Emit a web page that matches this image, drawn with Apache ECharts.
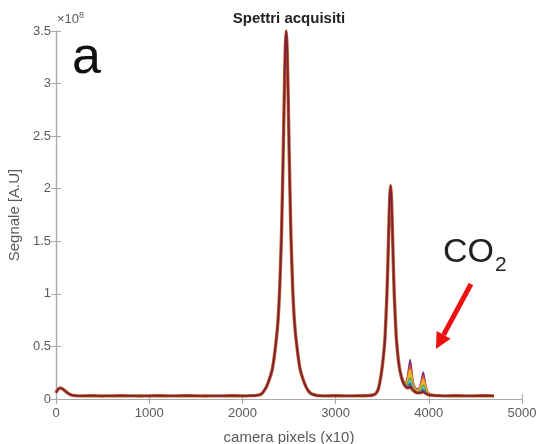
<!DOCTYPE html>
<html>
<head>
<meta charset="utf-8">
<script src="https://cdn.jsdelivr.net/npm/echarts@6/dist/echarts.min.js"></script>
<style>
  html, body { margin: 0; padding: 0; background: #fff; }
  #chart { width: 541px; height: 444px; }
</style>
</head>
<body>
<div id="chart"></div>
<script>
// Acquired spectra: signal (×10^8 A.U.) versus camera pixel (x10)
const pixelX = [0, 20, 50, 80, 120, 160, 200, 300, 400, 500, 600, 700, 800, 900, 1000, 1100, 1200, 1300, 1400, 1500,
  1600, 1700, 1800, 1900, 2000, 2100, 2150, 2200, 2230, 2260, 2290, 2320, 2350, 2380, 2400, 2420, 2440, 2450, 2460,
  2470, 2480, 2490, 2500, 2520, 2540, 2560, 2590, 2620, 2650, 2680, 2710, 2740, 2780, 2820, 2900, 3000, 3100, 3200,
  3300, 3350, 3400, 3430, 3460, 3490, 3510, 3530, 3550, 3560, 3570, 3580, 3590, 3600, 3610, 3620, 3630, 3650, 3670,
  3690, 3720, 3750, 3780, 3800, 3820, 3850, 3880, 3910, 3940, 3970, 4000, 4050, 4100, 4200, 4300, 4400, 4500, 4600, 4700];

const mainSignal = [0.06, 0.09, 0.105, 0.09, 0.06, 0.04, 0.032, 0.03, 0.031, 0.029, 0.03, 0.031, 0.03, 0.029, 0.03, 0.031, 0.03, 0.03, 0.031, 0.03,
  0.029, 0.03, 0.03, 0.031, 0.03, 0.032, 0.035, 0.045, 0.075, 0.12, 0.19, 0.28, 0.46, 0.72, 1.05, 1.58, 2.43, 2.93, 3.34,
  3.5, 3.34, 2.93, 2.43, 1.58, 1.05, 0.72, 0.46, 0.28, 0.19, 0.12, 0.075, 0.05, 0.038, 0.032, 0.03, 0.031, 0.03, 0.03,
  0.031, 0.032, 0.038, 0.05, 0.1, 0.24, 0.38, 0.58, 0.98, 1.26, 1.6, 1.9, 2.03, 1.9, 1.6, 1.26, 0.98, 0.6, 0.4,
  0.27, 0.17, 0.12, 0.105, 0.12, 0.095, 0.07, 0.058, 0.06, 0.07, 0.052, 0.04, 0.035, 0.032, 0.03, 0.031, 0.03, 0.03, 0.031, 0.03];

// CO2 band region, one trace per acquisition
const co2X = [3720, 3750, 3770, 3785, 3800, 3815, 3830, 3850, 3880, 3905, 3925, 3940, 3955, 3970, 3990, 4020, 4060, 4120];
const tracePurple = [0.179, 0.149, 0.202, 0.293, 0.375, 0.281, 0.172, 0.113, 0.091, 0.119, 0.194, 0.255, 0.19, 0.115, 0.064, 0.044, 0.034, 0.031];
const traceOrange = [0.177, 0.143, 0.181, 0.251, 0.315, 0.239, 0.151, 0.103, 0.084, 0.106, 0.166, 0.215, 0.162, 0.101, 0.059, 0.043, 0.034, 0.031];
const traceYellow = [0.176, 0.139, 0.167, 0.223, 0.275, 0.211, 0.137, 0.096, 0.079, 0.096, 0.145, 0.185, 0.141, 0.09, 0.056, 0.042, 0.034, 0.031];
const traceGreen  = [0.174, 0.132, 0.142, 0.174, 0.205, 0.162, 0.112, 0.084, 0.07, 0.079, 0.11, 0.135, 0.106, 0.073, 0.05, 0.04, 0.034, 0.031];
const traceCyan   = [0.172, 0.128, 0.128, 0.146, 0.165, 0.134, 0.098, 0.077, 0.065, 0.07, 0.089, 0.105, 0.085, 0.062, 0.046, 0.038, 0.034, 0.031];
const traceBlue   = [0.172, 0.126, 0.121, 0.132, 0.145, 0.12, 0.091, 0.073, 0.063, 0.065, 0.079, 0.09, 0.075, 0.057, 0.044, 0.038, 0.034, 0.031];

const xTicks = [0, 1000, 2000, 3000, 4000, 5000];
const yTicks = [0, 0.5, 1, 1.5, 2, 2.5, 3, 3.5];

const FONT = '"Liberation Sans", Arial, Helvetica, sans-serif';
const AX = '#a9a9a9';
const LBL = '#5a5a5a';

const pairs = (xs, ys) => xs.map((x, i) => [x, ys[i]]);

function trace(name, xs, ys, color, width, z) {
  return {
    name, type: 'line', data: pairs(xs, ys), showSymbol: false, symbol: 'none',
    smooth: 0.2, z: z || 2, silent: true,
    lineStyle: { color, width }
  };
}

const chart = echarts.init(document.getElementById('chart'), null, { renderer: 'canvas' });

const baseX = { min: 0, max: 5000, interval: 1000, type: 'value', splitLine: { show: false } };
const baseY = { min: 0, max: 3.5, interval: 0.5, type: 'value', splitLine: { show: false } };
const frame = { show: true, lineStyle: { color: AX, width: 1.2 } };
const ticks = { show: true, inside: true, length: 5, lineStyle: { color: AX } };

chart.setOption({
  animation: false,
  backgroundColor: '#fff',
  grid: { left: 56, right: 19, top: 31, bottom: 45, containLabel: false, outerBoundsMode: 'none' },
  xAxis: [
    Object.assign({}, baseX, {
      position: 'bottom', axisLine: frame, axisTick: ticks,
      axisLabel: { color: LBL, fontFamily: FONT, fontSize: 13, margin: 8,
        formatter: v => xTicks.includes(v) ? String(v) : '' },
      name: 'camera pixels (x10)', nameLocation: 'middle', nameGap: 31,
      nameTextStyle: { color: LBL, fontFamily: FONT, fontSize: 15 }
    }),
    Object.assign({}, baseX, {
      position: 'top', axisLine: frame, axisTick: ticks, axisLabel: { show: false }
    })
  ],
  yAxis: [
    Object.assign({}, baseY, {
      position: 'left', axisLine: frame, axisTick: ticks,
      axisLabel: { color: LBL, fontFamily: FONT, fontSize: 13, margin: 5,
        formatter: v => yTicks.includes(v) ? String(v) : '' },
      name: 'Segnale [A.U]', nameLocation: 'middle', nameGap: 29,
      nameTextStyle: { color: LBL, fontFamily: FONT, fontSize: 15 }
    }),
    Object.assign({}, baseY, {
      position: 'right', axisLine: frame, axisTick: ticks, axisLabel: { show: false }
    })
  ],
  series: [
    trace('s1', co2X, tracePurple, '#7E2F8E', 1.8, 2),
    trace('s2', co2X, traceOrange, '#D95319', 1.8, 2),
    trace('s3', co2X, traceYellow, '#EDB120', 2.2, 2),
    trace('s4', co2X, traceGreen, '#77AC30', 1.8, 2),
    trace('s5', co2X, traceCyan, '#4DBEEE', 1.8, 2),
    trace('s6', co2X, traceBlue, '#0072BD', 1.8, 2),
    trace('halo', pixelX, mainSignal, '#C0652E', 3.4, 3),
    trace('main', pixelX, mainSignal, '#7E1F35', 1.8, 4)
  ],
  graphic: [
    { type: 'text', x: 289, y: 19,
      style: { text: 'Spettri acquisiti', font: 'bold 15px ' + FONT, fill: '#222',
        align: 'center', verticalAlign: 'middle' } },
    { type: 'text', left: 57, top: 11,
      style: { text: '×10{s|8}', font: '13px ' + FONT, fill: LBL,
        rich: { s: { fontSize: 9, verticalAlign: 'top', fill: LBL, fontFamily: FONT, padding: [0, 0, 7, 0] } } } },
    { type: 'text', left: 72, top: 33,
      style: { text: 'a', font: '52px ' + FONT, fill: '#111' } },
    { type: 'text', left: 443, top: 236,
      style: { text: 'CO{sub|2}', font: '34px ' + FONT, fill: '#222',
        rich: { sub: { fontSize: 21, fontFamily: FONT, fill: '#222', padding: [24, 0, 0, 1] } } } },
    { type: 'line', shape: { x1: 471, y1: 284, x2: 443.6, y2: 334.9 },
      style: { stroke: '#EE1111', lineWidth: 5 } },
    { type: 'polygon', shape: { points: [[436, 349], [450.6, 338.7], [436.6, 331.1]] },
      style: { fill: '#EE1111' } }
  ]
});
</script>
</body>
</html>
